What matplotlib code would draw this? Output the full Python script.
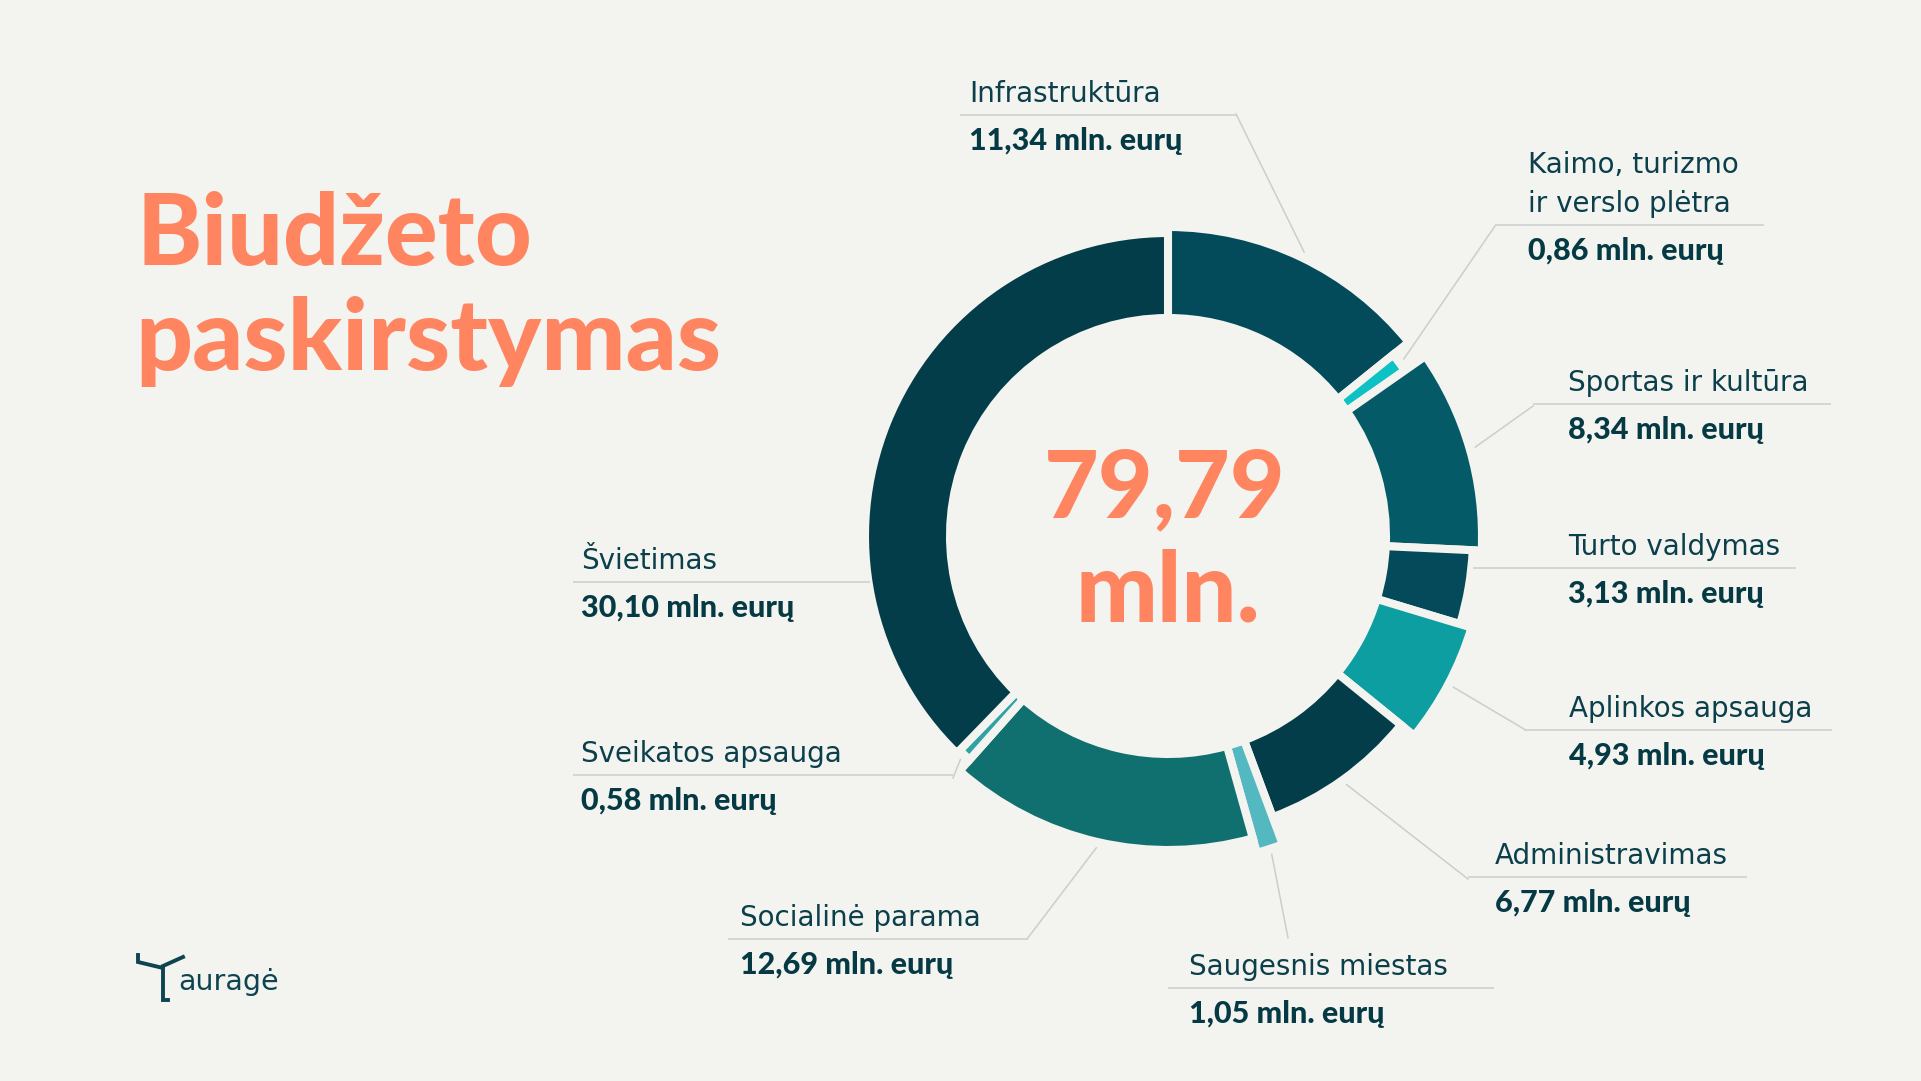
import numpy as np
import matplotlib.pyplot as plt

# Data
categories = ['Infrastruktūra', 'Kaimo, turizmo\nir verslo plėtra', 'Sportas ir kultūra',
              'Turto valdymas', 'Aplinkos apsauga', 'Administravimas', 'Saugesnis miestas',
              'Socialinė parama', 'Sveikatos apsauga', 'Švietimas']
values = [11.34, 0.86, 8.34, 3.13, 4.93, 6.77, 1.05, 12.69, 0.58, 30.10]   # mln. eurų

# Style
colors = ['#034B5A', '#0CC2C4', '#045A66', '#044A5A', '#0D9EA1',
          '#033D49', '#54B8C0', '#107070', '#2FA3A4', '#033D49']
outer_r = [305, 285, 310, 301, 313, 296, 325, 310, 295, 299]   # px, ring varies a bit
inner_r = 218
bg = '#F3F3EF'
orange = '#FF8561'
dark = '#0B3F4B'
grey = '#CBCECE'

# Layout in pixels (y from top): name x, name baseline, underline x0, x1, leader start
W, H = 1921, 1081
cx, cy = 1168, 536
layout = [
    (970, 102, 960, 1236, (1236, 114)),
    (1529, 212, 1495, 1764, (1495, 226)),
    (1569, 391, 1533, 1831, (1533, 406)),
    (1569, 555, 1473, 1796, None),
    (1570, 717, 1524, 1832, (1524, 729)),
    (1496, 864, 1468, 1747, (1468, 879)),
    (1190, 975, 1168, 1494, (1288, 938)),
    (741, 926, 728, 1027, (1027, 939)),
    (582, 762, 573, 953, (953, 778)),
    (582, 569, 573, 870, None),
]


def Y(y):
    return H - y


fig = plt.figure(figsize=(W / 100, H / 100), dpi=100, facecolor=bg)
ax = fig.add_axes([0, 0, 1, 1])
ax.set_facecolor(bg)

wedges, _ = ax.pie(values, colors=colors, startangle=90, counterclock=False,
                   center=(cx, Y(cy)), radius=300,
                   wedgeprops=dict(width=80, edgecolor=bg, linewidth=5.8))
for w, r in zip(wedges, outer_r):
    w.set_radius(r + 4)
    w.set_width(r + 4 - inner_r)

ax.set_xlim(0, W)
ax.set_ylim(0, H)
ax.axis('off')

# labels, underlines and leaders
for name, v, w, r, (nx, ny, x0, x1, start) in zip(categories, values, wedges, outer_r, layout):
    lines = name.split('\n')
    for k, line in enumerate(reversed(lines)):
        ax.text(nx - 1, Y(ny - 39 * k), line, fontsize=20, family='DejaVu Sans',
                color=dark, ha='left', va='baseline')
    ax.plot([x0, x1], [Y(ny + 13), Y(ny + 13)], color=grey, lw=1.1, solid_capstyle='butt')
    val = '{:.2f}'.format(v).replace('.', ',') + ' mln. eurų'
    ax.text(nx - 1, Y(ny + 48), val, fontsize=22, family='Lato', fontweight='black',
            color='#053A45', ha='left', va='baseline')
    if start is not None:
        mid = np.deg2rad((w.theta1 + w.theta2) / 2)
        ex = cx + (r + 10) * np.cos(mid)
        ey = Y(cy) + (r + 10) * np.sin(mid)
        ax.plot([start[0], ex], [Y(start[1]), ey], color=grey, lw=1.1)

# center total
total = '{:.2f}'.format(sum(values)).replace('.', ',')
ax.text(1165, Y(517), total, fontsize=68, family='Lato', fontweight='black',
        color=orange, ha='center', va='baseline')
ax.text(1168, Y(622), 'mln.', fontsize=70, family='Lato', fontweight='black',
        color=orange, ha='center', va='baseline')

# title
ax.text(137, Y(265), 'Biudžeto', fontsize=71, family='Lato', fontweight='black',
        color=orange, ha='left', va='baseline')
ax.text(135, Y(370), 'paskirstymas', fontsize=72, family='Lato', fontweight='black',
        color=orange, ha='left', va='baseline')

# logo
logo = '#0D4450'
ax.plot([138, 138, 163, 163, 168], [Y(955), Y(962), Y(968), Y(1000), Y(1000)],
        color=logo, lw=2.8, solid_joinstyle='miter')
ax.plot([163, 183], [Y(966), Y(957)], color=logo, lw=2.8)
ax.text(178, Y(990), 'auragė', fontsize=20.5, family='DejaVu Sans', color=logo,
        ha='left', va='baseline')

fig.savefig('out.png', dpi=100, facecolor=bg)
